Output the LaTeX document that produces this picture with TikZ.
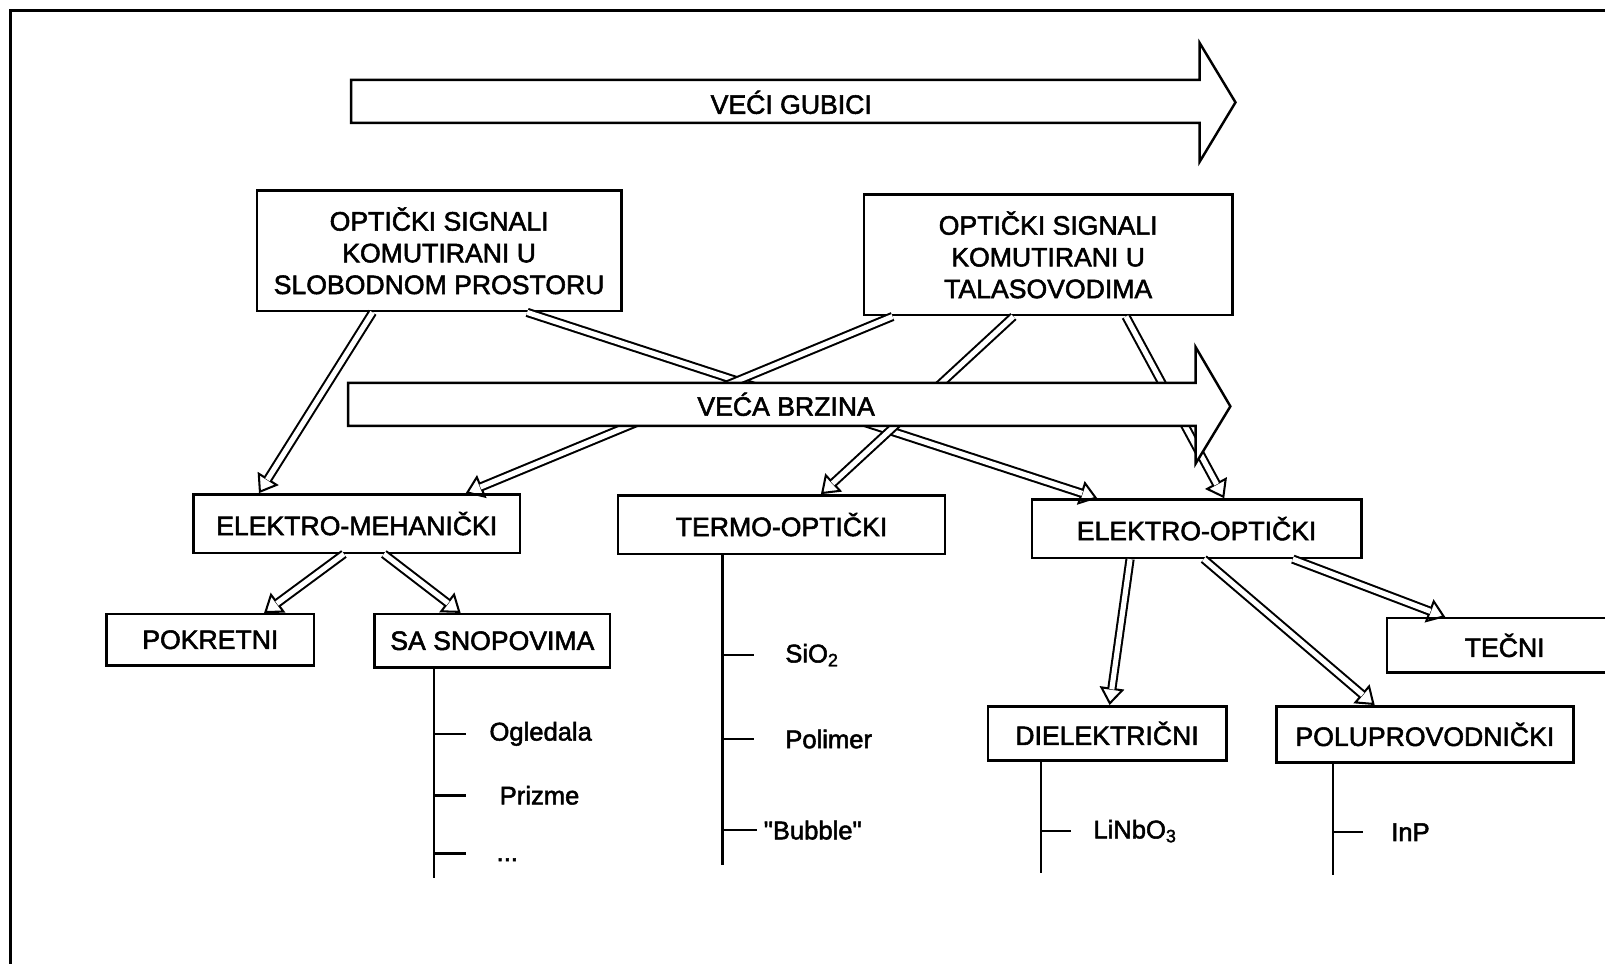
\documentclass[tikz,border=0pt]{standalone}
\usepackage{fontspec}
\setmainfont{Liberation Sans}[FakeBold=2, Ligatures=TeXOff]
\usetikzlibrary{arrows.meta}

\tikzset{every picture/.style={line width=2.4pt}}
\tikzset{
  kutija/.style={draw, line width=2.4pt, fill=white, inner sep=0pt, align=center, font=\fontsize{26}{31}\selectfont},
  natpis/.style={inner sep=0pt, font=\fontsize{26}{31}\selectfont},
  oznaka/.style={inner sep=0pt, anchor=west, font=\fontsize{25}{30}\selectfont},
  dupla/.style={line width=2pt, -{Triangle[open, length=17pt, width=24pt]}, postaction={draw, -, double=white, double distance=5pt, shorten >=15.5pt}},
}

\begin{document}
\begin{tikzpicture}[x=1pt,y=1pt,yscale=-1,xscale=1]
\useasboundingbox (0,0) rectangle (1568,941);
\clip (0,0) rectangle (1568,941);

%okvir
\draw [line width=3pt] (10,10) rectangle (1600,975);

%Velika strelica: veci gubici
\draw [line width=2.4pt, fill=white] (343,78) -- (1172,78) -- (1172,42) -- (1207,100) -- (1172,158) -- (1172,120) -- (343,120) -- cycle;
\node [natpis] (gubici) at (773,100) {VEĆI GUBICI};

%Kutije
\node [kutija, minimum width=356pt, minimum height=118pt] (slobodni) at (429,245) {OPTIČKI SIGNALI\\KOMUTIRANI U\\SLOBODNOM PROSTORU};
\node [kutija, minimum width=360pt, minimum height=118pt] (talasovodi) at (1024,249) {OPTIČKI SIGNALI\\KOMUTIRANI U\\TALASOVODIMA};
\node [kutija, minimum width=319pt, minimum height=57pt] (mehanicki) at (348.5,511.5) {ELEKTRO-MEHANIČKI};
\node [kutija, minimum width=319pt, minimum height=57pt] (termo) at (763.5,512.5) {TERMO-OPTIČKI};
\node [kutija, minimum width=322pt, minimum height=57pt] (optic) at (1169,516.5) {ELEKTRO-OPTIČKI};
\node [kutija, minimum width=203pt, minimum height=50pt] (pokretni) at (205.5,625) {POKRETNI};
\node [kutija, minimum width=230pt, minimum height=52pt] (snopovi) at (481,626) {SA SNOPOVIMA};
\node [kutija, minimum width=230pt, minimum height=53pt] (tecni) at (1470,630.5) {TEČNI};
\node [kutija, minimum width=233pt, minimum height=53pt] (dielektricni) at (1081.5,716.5) {DIELEKTRIČNI};
\node [kutija, minimum width=290pt, minimum height=55pt] (poluprov) at (1392,717.5) {POLUPROVODNIČKI};

%Dvostruke strelice
\draw [dupla] (364,0 |- slobodni.south) -- (253,0 |- mehanicki.north);
\draw [dupla] (515,0 |- slobodni.south) -- (1072,0 |- optic.north);
\draw [dupla] (872,0 |- talasovodi.south) -- (455,0 |- mehanicki.north);
\draw [dupla] (990,0 |- talasovodi.south) -- (802,0 |- termo.north);
\draw [dupla] (1100,0 |- talasovodi.south) -- (1196,0 |- optic.north);
\draw [dupla] (336,0 |- mehanicki.south) -- (258,0 |- pokretni.north);
\draw [dupla] (375,0 |- mehanicki.south) -- (450,0 |- snopovi.north);
\draw [dupla] (1104,0 |- optic.south) -- (1084,0 |- dielektricni.north);
\draw [dupla] (1176,0 |- optic.south) -- (1343,0 |- poluprov.north);
\draw [dupla] (1263,0 |- optic.south) -- (1412,0 |- tecni.north);

%Velika strelica: veca brzina (preko strelica)
\draw [line width=2.4pt, fill=white] (340,374) -- (1168,374) -- (1168,339) -- (1202,397) -- (1168,453) -- (1168,416) -- (340,416) -- cycle;
\node [natpis] (brzina) at (768,395) {VEĆA BRZINA};

%Grane
\coordinate (g1) at (424,858);
\coordinate (g2) at (706,845);
\coordinate (g3) at (1017,853);
\coordinate (g4) at (1302,855);

\node [oznaka] (ogledala) at (477,717) {Ogledala};
\node [oznaka] (prizme) at (487,777) {Prizme};
\node [oznaka] (ostalo) at (484,840) {...};
\node [oznaka] (sio) at (766,640) {SiO\textsubscript{2}};
\node [oznaka] (polimer) at (766,722) {Polimer};
\node [oznaka] (bubble) at (745,811) {"Bubble"};
\node [oznaka] (linbo) at (1067,812) {LiNbO\textsubscript{3}};
\node [oznaka] (inp) at (1358,813) {InP};

\draw (g1 |- snopovi.south) -- (g1);
\draw (g1 |- ogledala.west) -- ++(31,0);
\draw (g1 |- prizme.west) -- ++(31,0);
\draw (g1 |- 0,834) -- ++(31,0);

\draw (g2 |- termo.south) -- (g2);
\draw (g2 |- sio.west) -- ++(31,0);
\draw (g2 |- polimer.west) -- ++(31,0);
\draw (g2 |- bubble.west) -- ++(34,0);

\draw (g3 |- dielektricni.south) -- (g3);
\draw (g3 |- linbo.west) -- ++(29,0);

\draw (g4 |- poluprov.south) -- (g4);
\draw (g4 |- inp.west) -- ++(30,0);

\end{tikzpicture}
\end{document}
